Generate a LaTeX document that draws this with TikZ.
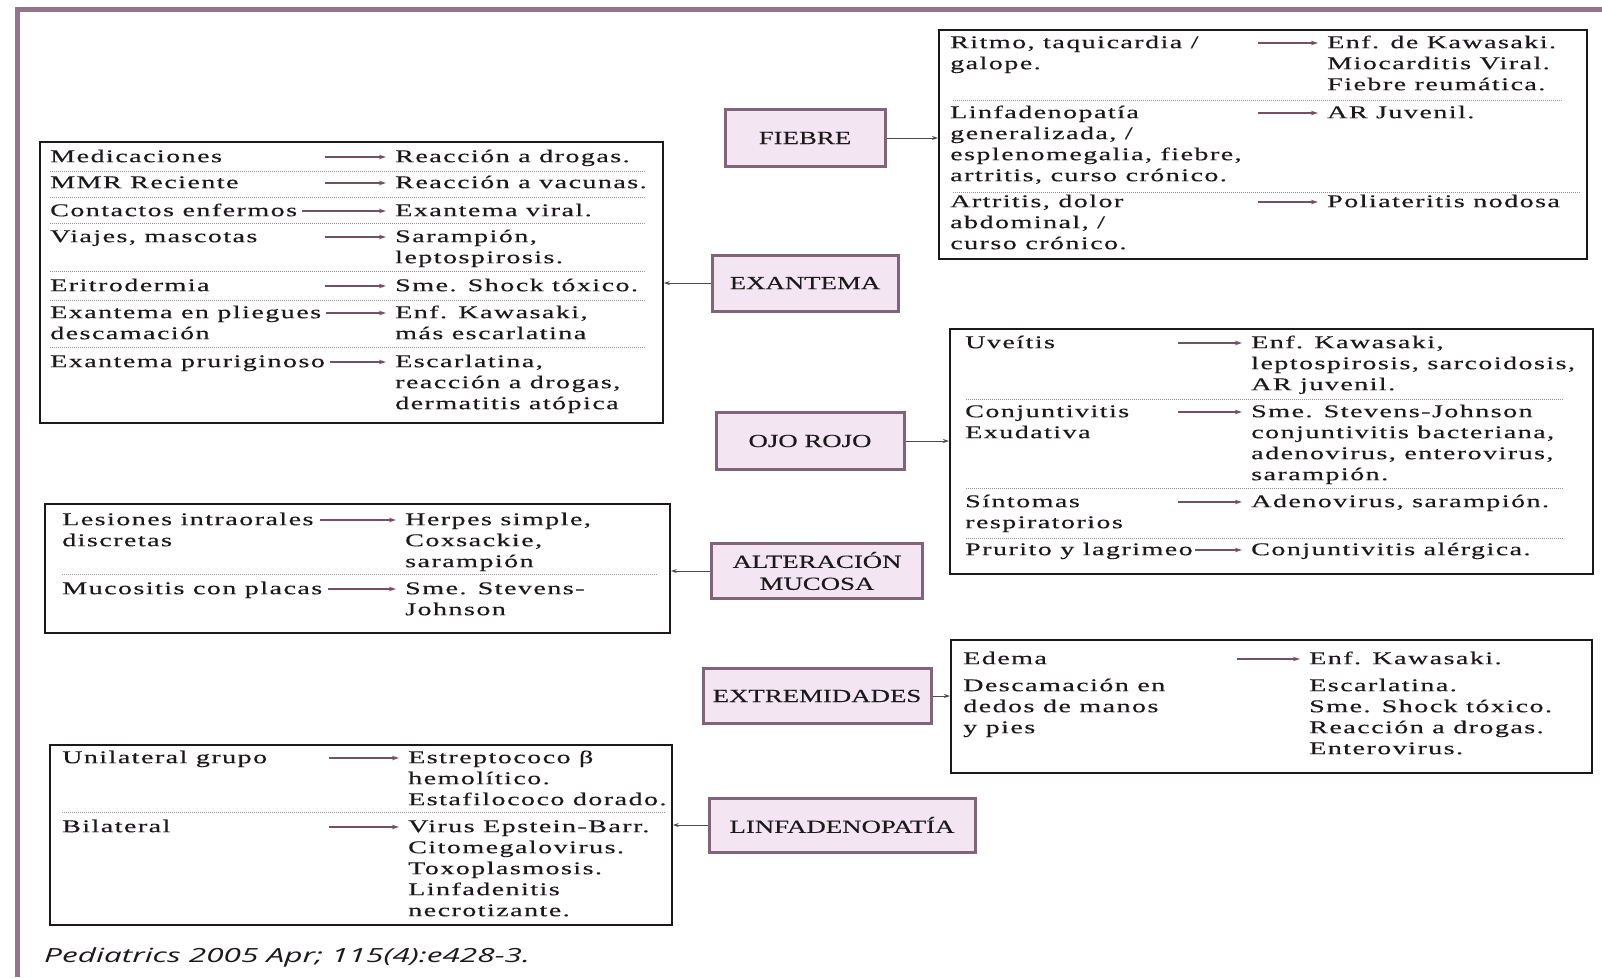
\documentclass[tikz,border=0pt]{standalone}
\usepackage{fontspec}
\setmainfont{Liberation Serif}
\newfontfamily\tabfont[FakeStretch=1.56,LetterSpace=8,FakeBold=0.3]{Liberation Serif}
\newfontfamily\tagfont[FakeStretch=1.45,FakeBold=0.2]{Liberation Serif}
\newfontfamily\citefont[FakeStretch=1.62]{Open Sans}
\usetikzlibrary{arrows.meta}
\definecolor{framecol}{RGB}{150,115,140}
\definecolor{tagfill}{RGB}{243,230,242}
\definecolor{tagdraw}{RGB}{130,100,120}
\definecolor{arrcol}{RGB}{115,80,100}
\definecolor{inkcol}{RGB}{28,24,28}
\definecolor{sepcol}{RGB}{150,145,150}
\begin{document}
\begin{tikzpicture}[x=1pt,y=-1pt,
  frameline/.style={draw=framecol,line width=5pt},
  tag/.style={draw=tagdraw,fill=tagfill,line width=3pt,inner sep=0pt,align=center,
    text=inkcol,font=\tagfont\fontsize{18.5}{22}\selectfont},
  tbl/.style={draw=inkcol,line width=1.8pt,anchor=north west,inner sep=0pt},
  cell/.style={anchor=north west,inner sep=0pt,yshift=14.7pt,align=left,text=inkcol,
    font=\tabfont\fontsize{18}{21}\selectfont},
  sepline/.style={draw=sepcol,line width=0.9pt,dash pattern=on 1pt off 1pt},
  rarr/.style={draw=arrcol,line width=1.8pt,shorten >=9pt,-{Stealth[length=7pt,width=4.5pt]}},
  conn/.style={draw=gray!60!black,line width=1pt,-{Stealth[length=6pt,width=4pt]}}
]
\useasboundingbox (0,0) rectangle (1602,977);
\fill[white] (0,0) rectangle (1602,977);
% frame
\coordinate (fTL) at (17,9);
\coordinate (fTR) at (1602,9);
\coordinate (fBL) at (17,977);
\draw[frameline] (fTR) -- (fTL) -- (fBL);

% ===== tags =====
\node[tag,minimum width=160pt,minimum height=57pt] (fiebre) at (805,138) {FIEBRE};
\node[tag,minimum width=186pt,minimum height=56pt] (exantema) at (805,283) {EXANTEMA};
\node[tag,minimum width=188pt,minimum height=57pt] (ojo) at (810,441) {OJO ROJO};
\node[tag,minimum width=211pt,minimum height=55pt] (mucosa) at (817,571) {ALTERACIÓN\\MUCOSA};
\node[tag,minimum width=228pt,minimum height=55pt] (extrem) at (817,696) {EXTREMIDADES};
\node[tag,minimum width=266pt,minimum height=54pt] (linfa) at (842,825) {LINFADENOPATÍA};

% ===== FIEBRE table =====
\node[tbl,minimum width=648pt,minimum height=229pt] (tfie) at (938,29) {};
\draw[sepline] (953,100) -- (1563,100);
\draw[sepline] (953,192) -- (1580,192);
\node[cell] (fL1) at (950,48) {\strut Ritmo, taquicardia /\\galope.};
\node[cell] (fR1) at (1327,48) {\strut Enf. de Kawasaki.\\Miocarditis Viral.\\Fiebre reumática.};
\node[cell] (fL2) at (950,118) {\strut Linfadenopatía\\generalizada, /\\esplenomegalia, fiebre,\\artritis, curso crónico.};
\node[cell] (fR2) at (1327,118) {\strut AR Juvenil.};
\node[cell] (fL3) at (950,207) {\strut Artritis, dolor\\abdominal, /\\curso crónico.};
\node[cell] (fR3) at (1327,207) {\strut Poliateritis nodosa};
\coordinate (fA1) at (1258,43);
\coordinate (fA2) at (1258,113);
\coordinate (fA3) at (1258,202);
\draw[rarr] (fA1) -- (fA1 -| fR1.west);
\draw[rarr] (fA2) -- (fA2 -| fR2.west);
\draw[rarr] (fA3) -- (fA3 -| fR3.west);
\draw[conn] (fiebre.east) -- (fiebre.east -| tfie.west);

% ===== EXANTEMA table =====
\node[tbl,minimum width=623pt,minimum height=281pt] (texa) at (39,141) {};
\foreach \yy in {171,197,223,271,300,347}{\draw[sepline] (50,\yy) -- (645,\yy);}
\node[cell] (eL1) at (50,162) {\strut Medicaciones};
\node[cell] (eR1) at (395,162) {\strut Reacción a drogas.};
\node[cell] (eL2) at (50,188) {\strut MMR Reciente};
\node[cell] (eR2) at (395,188) {\strut Reacción a vacunas.};
\node[cell] (eL3) at (50,216) {\strut Contactos enfermos};
\node[cell] (eR3) at (395,216) {\strut Exantema viral.};
\node[cell] (eL4) at (50,242) {\strut Viajes, mascotas};
\node[cell] (eR4) at (395,242) {\strut Sarampión,\\leptospirosis.};
\node[cell] (eL5) at (50,291) {\strut Eritrodermia};
\node[cell] (eR5) at (395,291) {\strut Sme. Shock tóxico.};
\node[cell] (eL6) at (50,318) {\strut Exantema en pliegues\\descamación};
\node[cell] (eR6) at (395,318) {\strut Enf. Kawasaki,\\más escarlatina};
\node[cell] (eL7) at (50,367) {\strut Exantema pruriginoso};
\node[cell] (eR7) at (395,367) {\strut Escarlatina,\\reacción a drogas,\\dermatitis atópica};
\coordinate (eA1) at (325,157);
\coordinate (eA2) at (325,183);
\coordinate (eA4) at (325,237);
\coordinate (eA5) at (325,286);
\coordinate (eA3) at ([xshift=5pt]eL3.east |- 0,211);
\coordinate (eA6) at ([xshift=5pt]eL6.east |- 0,313);
\coordinate (eA7) at ([xshift=5pt]eL7.east |- 0,362);
\foreach \i in {1,...,7}{\draw[rarr] (eA\i) -- (eA\i -| eR\i.west);}
\draw[conn] (exantema.west) -- (exantema.west -| texa.east);

% ===== OJO ROJO table =====
\node[tbl,minimum width=643pt,minimum height=245pt] (tojo) at (949,328) {};
\draw[sepline] (966,399) -- (1563,399);
\draw[sepline] (966,488) -- (1563,488);
\draw[sepline] (966,538) -- (1563,538);
\node[cell] (oL1) at (965,348) {\strut Uveítis};
\node[cell] (oR1) at (1251,348) {\strut Enf. Kawasaki,\\leptospirosis, sarcoidosis,\\AR juvenil.};
\node[cell] (oL2) at (965,417) {\strut Conjuntivitis\\Exudativa};
\node[cell] (oR2) at (1251,417) {\strut Sme. Stevens-Johnson\\conjuntivitis bacteriana,\\adenovirus, enterovirus,\\sarampión.};
\node[cell] (oL3) at (965,507) {\strut Síntomas\\respiratorios};
\node[cell] (oR3) at (1251,507) {\strut Adenovirus, sarampión.};
\node[cell] (oL4) at (965,555) {\strut Prurito y lagrimeo};
\node[cell] (oR4) at (1251,555) {\strut Conjuntivitis alérgica.};
\coordinate (oA1) at (1178,343);
\coordinate (oA2) at (1178,412);
\coordinate (oA3) at (1178,502);
\coordinate (oA4) at ([xshift=2pt]oL4.east |- 0,550);
\foreach \i in {1,...,4}{\draw[rarr] (oA\i) -- (oA\i -| oR\i.west);}
\draw[conn] (ojo.east) -- (ojo.east -| tojo.west);

% ===== ALTERACION MUCOSA table =====
\node[tbl,minimum width=625pt,minimum height=129pt] (tmuc) at (44,503) {};
\draw[sepline] (62,574) -- (658,574);
\node[cell] (mL1) at (62,525) {\strut Lesiones intraorales\\discretas};
\node[cell] (mR1) at (405,525) {\strut Herpes simple,\\Coxsackie,\\sarampión};
\node[cell] (mL2) at (62,594) {\strut Mucositis con placas};
\node[cell] (mR2) at (405,594) {\strut Sme. Stevens-\\Johnson};
\coordinate (mA1) at ([xshift=6pt]mL1.east |- 0,520);
\coordinate (mA2) at ([xshift=6pt]mL2.east |- 0,589);
\draw[rarr] (mA1) -- (mA1 -| mR1.west);
\draw[rarr] (mA2) -- (mA2 -| mR2.west);
\draw[conn] (mucosa.west) -- (mucosa.west -| tmuc.east);

% ===== EXTREMIDADES table =====
\node[tbl,minimum width=641pt,minimum height=133pt] (text) at (950,639) {};
\node[cell] (xL1) at (963,664) {\strut Edema};
\node[cell] (xR1) at (1309,664) {\strut Enf. Kawasaki.};
\node[cell] (xL2) at (963,691) {\strut Descamación en\\dedos de manos\\y pies};
\node[cell] (xR2) at (1309,691) {\strut Escarlatina.\\Sme. Shock tóxico.\\Reacción a drogas.\\Enterovirus.};
\coordinate (xA1) at (1237,659);
\draw[rarr] (xA1) -- (xA1 -| xR1.west);
\draw[conn] (extrem.east) -- (extrem.east -| text.west);

% ===== LINFADENOPATIA table =====
\node[tbl,minimum width=622pt,minimum height=180pt] (tlin) at (49,744) {};
\draw[sepline] (62,812) -- (665,812);
\node[cell] (lL1) at (62,763) {\strut Unilateral grupo};
\node[cell] (lR1) at (408,763) {\strut Estreptococo β\\hemolítico.\\Estafilococo dorado.};
\node[cell] (lL2) at (62,832) {\strut Bilateral};
\node[cell] (lR2) at (408,832) {\strut Virus Epstein-Barr.\\Citomegalovirus.\\Toxoplasmosis.\\Linfadenitis\\necrotizante.};
\coordinate (lA1) at (329,758);
\coordinate (lA2) at (329,827);
\draw[rarr] (lA1) -- (lA1 -| lR1.west);
\draw[rarr] (lA2) -- (lA2 -| lR2.west);
\draw[conn] (linfa.west) -- (linfa.west -| tlin.east);

% citation
\node[anchor=base west,inner sep=0pt,text=inkcol,font=\citefont\itshape\fontsize{19.5}{22}\selectfont] (cite) at (44,962) {Pediatrics 2005 Apr; 115(4):e428-3.};
\end{tikzpicture}
\end{document}
